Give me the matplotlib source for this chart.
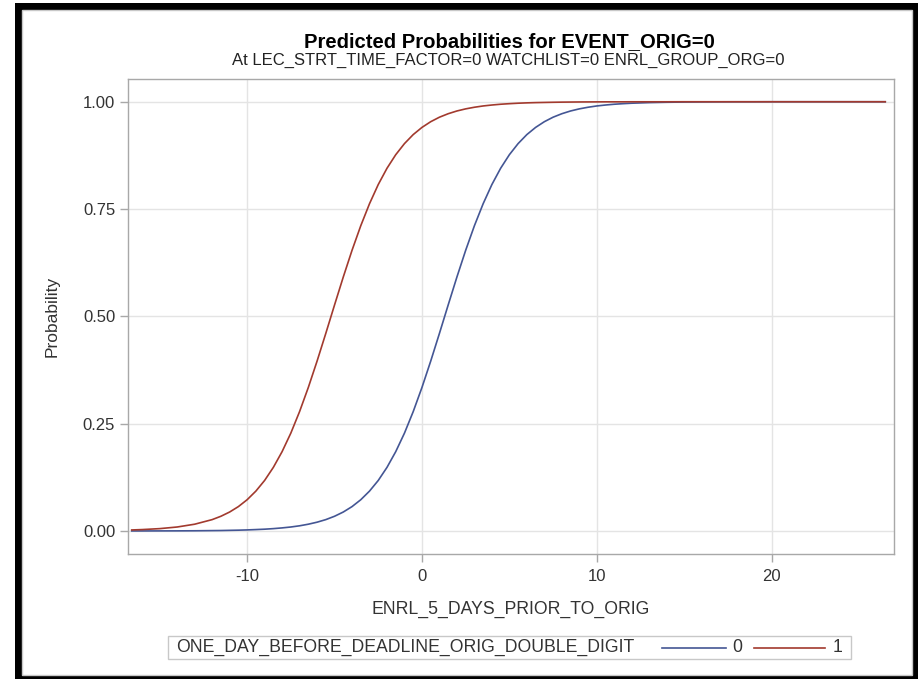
import numpy as np
import matplotlib
matplotlib.use("Agg")
import matplotlib.pyplot as plt
from matplotlib.patches import Rectangle
from matplotlib.lines import Line2D

plt.rcParams['font.family'] = ['Liberation Sans', 'DejaVu Sans']
plt.rcParams['axes.unicode_minus'] = False

# valeurs
enrl_days = [-16.6, -16, -15, -14, -13, -12,
             -11.5, -11, -10.5, -10, -9.5, -9, -8.5, -8, -7.5, -7, -6.5, -6,
             -5.5, -5, -4.5, -4, -3.5, -3, -2.5, -2, -1.5, -1, -0.5, 0,
             0.5, 1, 1.5, 2, 2.5, 3, 3.5, 4, 4.5, 5, 5.5, 6,
             6.5, 7, 7.5, 8, 8.5, 9, 9.5, 10, 10.5, 11, 11.5, 12,
             13, 14, 15, 16, 17, 18, 19, 20, 21, 22, 23, 24, 25, 26, 26.5]

prob_0 = [0.0001, 0.0001, 0.0002, 0.0003, 0.0005, 0.0009,
          0.0011, 0.0015, 0.0019, 0.0025, 0.0033, 0.0042, 0.0055, 0.0072, 0.0093, 0.0121, 0.0158, 0.0205,
          0.0265, 0.0343, 0.0442, 0.0568, 0.0728, 0.0929, 0.1177, 0.1482, 0.1848, 0.2280, 0.2781, 0.3343,
          0.3956, 0.4603, 0.5265, 0.5917, 0.6538, 0.7111, 0.7624, 0.8071, 0.8450, 0.8766, 0.9025, 0.9235,
          0.9402, 0.9535, 0.9640, 0.9721, 0.9785, 0.9834, 0.9872, 0.9902, 0.9924, 0.9942, 0.9955, 0.9966,
          0.9980, 0.9988, 0.9993, 0.9996, 0.9998, 0.9999, 0.9999, 1.0, 1.0, 1.0, 1.0, 1.0, 1.0, 1.0, 1.0]

prob_1 = [0.0024, 0.0033, 0.0055, 0.0093, 0.0158, 0.0265,
          0.0343, 0.0442, 0.0568, 0.0728, 0.0929, 0.1177, 0.1482, 0.1848, 0.2280, 0.2781, 0.3343, 0.3956,
          0.4603, 0.5265, 0.5917, 0.6538, 0.7111, 0.7624, 0.8071, 0.8450, 0.8766, 0.9025, 0.9235, 0.9402,
          0.9535, 0.9640, 0.9721, 0.9785, 0.9834, 0.9872, 0.9902, 0.9924, 0.9942, 0.9955, 0.9966, 0.9974,
          0.9980, 0.9984, 0.9988, 0.9991, 0.9993, 0.9995, 0.9996, 0.9997, 0.9998, 0.9998, 0.9998, 0.9999,
          0.9999, 0.9999, 1.0, 1.0, 1.0, 1.0, 1.0, 1.0, 1.0, 1.0, 1.0, 1.0, 1.0, 1.0, 1.0]

x_ticks = [-10, 0, 10, 20]
y_ticks = [0.0, 0.25, 0.50, 0.75, 1.00]

col_0 = '#445694'
col_1 = '#A23A2E'
W, H = 918, 679

fig = plt.figure(figsize=(W / 100, H / 100), dpi=100)
fig.patch.set_facecolor('white')

# cadre noir + cadre gris interieur
fig.patches.append(Rectangle((15 / W, 0), (W - 15) / W, (H - 3) / H, transform=fig.transFigure,
                             facecolor='black', edgecolor='none', zorder=-10))
fig.patches.append(Rectangle((22 / W, 1 - 675 / H), (912 - 22) / W, (675 - 10) / H, transform=fig.transFigure,
                             facecolor='white', edgecolor='#c8c8c8', lw=1.0, zorder=-9))

ax = fig.add_axes([127.7 / W, 1 - 554 / H, (894 - 127.7) / W, (554 - 79) / H])
ax.plot(enrl_days, prob_0, color=col_0, lw=1.2, zorder=3)
ax.plot(enrl_days, prob_1, color=col_1, lw=1.2, zorder=3)

ax.set_xlim(-16.83, 27.0)
ax.set_ylim(-0.0536, 1.053)
ax.set_xticks(x_ticks)
ax.set_yticks(y_ticks)
ax.set_yticklabels(['%.2f' % v for v in y_ticks])
ax.grid(True, color='#e4e4e4', lw=1.0)
ax.set_axisbelow(True)
for s in ax.spines.values():
    s.set_color('#a8a8a8')
    s.set_linewidth(1.0)
ax.tick_params(colors='#a8a8a8', labelcolor='#333333', length=6, width=1.0, labelsize=12)
ax.tick_params(axis='x', pad=5)
ax.tick_params(axis='y', pad=3)

ax.set_xlabel('ENRL_5_DAYS_PRIOR_TO_ORIG', fontsize=12.7, color='#333333', labelpad=12)
ax.set_ylabel('Probability', fontsize=12.5, color='#333333', labelpad=17)

fig.text(509 / W, 1 - 46.7 / H, 'Predicted Probabilities for EVENT_ORIG=0', ha='center', va='baseline',
         fontsize=14.6, fontweight='bold', color='black')
fig.text(508 / W, 1 - 65 / H, 'At LEC_STRT_TIME_FACTOR=0 WATCHLIST=0 ENRL_GROUP_ORG=0', ha='center',
         va='baseline', fontsize=12, color='#222222')

# legende
fig.patches.append(Rectangle((168 / W, 1 - 659 / H), (851 - 168) / W, (659 - 636) / H, transform=fig.transFigure,
                             facecolor='white', edgecolor='#c8c8c8', lw=1.0))
ly = 1 - 647.5 / H
fig.text(176 / W, ly, 'ONE_DAY_BEFORE_DEADLINE_ORIG_DOUBLE_DIGIT', ha='left', va='center', fontsize=12.7, color='#333333')
fig.lines.append(Line2D([662 / W, 726 / W], [ly, ly], transform=fig.transFigure, color=col_0, lw=1.2))
fig.text(737 / W, ly, '0', ha='center', va='center', fontsize=12.7, color='#333333')
fig.lines.append(Line2D([754 / W, 825 / W], [ly, ly], transform=fig.transFigure, color=col_1, lw=1.2))
fig.text(838 / W, ly, '1', ha='center', va='center', fontsize=12.7, color='#333333')

plt.savefig('out.png', dpi=100)
